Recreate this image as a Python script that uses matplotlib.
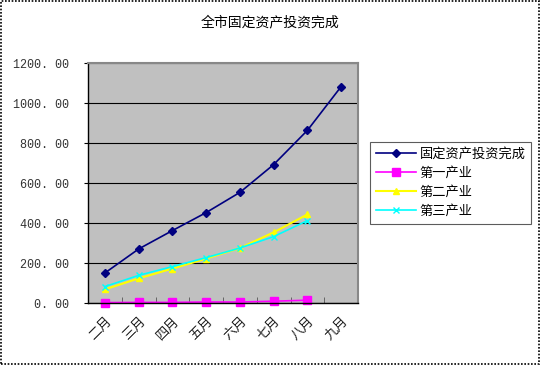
import matplotlib
matplotlib.use("Agg")
import matplotlib.pyplot as plt
from matplotlib.patches import Rectangle
from matplotlib.ticker import FuncFormatter

plt.rcParams['font.family'] = ['Noto Sans CJK SC', 'DejaVu Sans']

months = ['二月', '三月', '四月', '五月', '六月', '七月', '八月', '九月']
total = [150, 270, 362, 452, 553, 692, 863, 1082]
primary = [2, 3, 3, 5, 5, 9, 14]
secondary = [68, 123, 172, 222, 275, 353, 443]
tertiary = [82, 138, 182, 227, 275, 332, 412]
series_names = ['固定资产投资完成', '第一产业', '第二产业', '第三产业']
title = '全市固定资产投资完成'

fig = plt.figure(figsize=(5.4, 3.65), dpi=100)
fig.patch.set_facecolor('white')
ax = fig.add_axes([88/540, 62/365, 270/540, 240/365])
ax.set_facecolor('#c0c0c0')

x = list(range(len(months)))
ax.plot(x, total, color='#000080', marker='D', markersize=4, lw=1.2, label=series_names[0], clip_on=False)
ax.plot(x[:len(primary)], primary, color='#ff00ff', marker='s', markersize=6, lw=1.2, label=series_names[1], clip_on=False)
ax.plot(x[:len(secondary)], secondary, color='#ffff00', marker='^', markersize=5, lw=1.5, label=series_names[2], clip_on=False)
ax.plot(x[:len(tertiary)], tertiary, color='#00ffff', marker='x', markersize=5, lw=1.2, label=series_names[3], clip_on=False)

ax.set_xlim(-0.5, len(months) - 0.5)
ax.set_ylim(0, 1200)
ax.set_yticks(range(0, 1201, 200))
ax.yaxis.set_major_formatter(FuncFormatter(lambda v, p: ('%.2f' % v).replace('.', '. ')))
for lbl in ax.get_yticklabels():
    lbl.set_family('Liberation Mono')
ax.grid(axis='y', color='black', lw=0.8)
ax.set_axisbelow(True)
ax.set_xticks(x)
ax.set_xticklabels(months, rotation=45, ha='right', va='top', rotation_mode='anchor')
ax.set_xticks([i + 0.5 for i in x], minor=True)
ax.tick_params(axis='x', which='major', length=0, pad=8, labelsize=9.5, labelcolor='#222222')
ax.tick_params(axis='x', which='minor', length=4, direction='in', color='#555555')
ax.tick_params(axis='y', length=3, direction='out', labelsize=8.5, labelcolor='#333333', pad=11)
for lbl in ax.get_yticklabels():
    lbl.set_family('Liberation Mono')
for s in ['left', 'bottom']:
    ax.spines[s].set_color('black')
    ax.spines[s].set_linewidth(1)
for s in ['top', 'right']:
    ax.spines[s].set_color('#888888')
    ax.spines[s].set_linewidth(1.5)

fig.text(270/540, 1 - 22/365, title, ha='center', va='center', fontsize=10)

leg = fig.legend(loc='upper left', bbox_to_anchor=(370/540, 1 - 142/365), frameon=True,
                 fancybox=False, edgecolor='#333333', fontsize=9.5, handlelength=3,
                 borderpad=0.45, labelspacing=0.45, handletextpad=0.3, borderaxespad=0)
leg.get_frame().set_linewidth(0.8)

fig.patches.append(Rectangle((1/540, 1/365), 538/540, 363/365, transform=fig.transFigure,
                             fill=False, edgecolor='black', lw=1.2, linestyle=(0, (1, 1))))

fig.savefig('out.png', dpi=100)
